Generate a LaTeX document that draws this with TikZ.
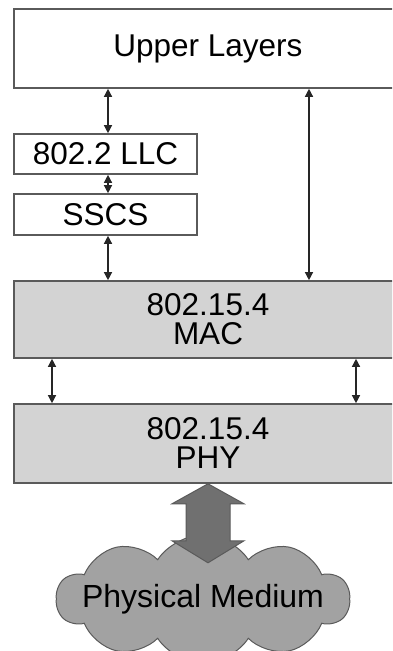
\documentclass[tikz,border=0pt]{standalone}
\usepackage{fontspec}
\setmainfont{Liberation Sans}
\usetikzlibrary{arrows.meta,shapes.symbols}
\definecolor{layerline}{HTML}{5A5A5A}
\definecolor{layergray}{HTML}{D3D3D3}
\definecolor{mediumgray}{HTML}{A2A2A2}
\definecolor{pipegray}{HTML}{707070}
\tikzset{
  layerbox/.style={draw=layerline, line width=1.6pt, fill=white,
                   inner sep=0pt, font=\fontsize{31.5}{29}\selectfont, align=center},
  graybox/.style={layerbox, fill=layergray},
  sap/.style={{Triangle[length=8pt,width=8pt]}-{Triangle[length=8pt,width=8pt]},
              line width=1.3pt, draw=black!85},
  bigpipe/.style={fill=pipegray, draw=layerline, line width=1pt},
}

\begin{document}
\begin{tikzpicture}[x=1pt, y=1pt]
    \useasboundingbox (0,0) rectangle (392,651);
    \clip (0,0) rectangle (392,651);
    % layers
    \node[layerbox, minimum width=388pt, minimum height=79pt] (upper) at (208, 602.5) {Upper Layers};
    \node[layerbox, minimum width=183pt, minimum height=40pt] (llc) at (105.5, 497) {802.2 LLC};
    \node[layerbox, minimum width=183pt, minimum height=41pt] (sscs) at (105.5, 436.5) {SSCS};
    \node[graybox, minimum width=388pt, minimum height=77pt] (mac) at (208, 331.5) {802.15.4\\MAC};
    \node[graybox, minimum width=388pt, minimum height=79pt] (phy) at (208, 207.5) {802.15.4\\PHY};
    \node[cloud, cloud puffs=10, cloud puff arc=115, aspect=2.7, fill=mediumgray,
          draw=layerline, line width=1pt, minimum width=293pt, minimum height=112pt,
          inner xsep=-34pt, inner ysep=-14pt, font=\fontsize{32}{34}\selectfont]
          (medium) at (203, 52) {Physical Medium};
    % service access points
    \draw[sap] (upper.south -| 108,0) -- (llc.north -| 108,0);
    \draw[sap] (llc.south -| 108,0) -- (sscs.north -| 108,0);
    \draw[sap] (sscs.south -| 108,0) -- (mac.north -| 108,0);
    \draw[sap] (upper.south -| 309,0) -- (mac.north -| 309,0);
    \draw[sap] (mac.south -| 52,0) -- (phy.north -| 52,0);
    \draw[sap] (mac.south -| 356,0) -- (phy.north -| 356,0);
    % phy <-> medium
    \draw[bigpipe] (phy.south) -- ++(36,-20) -- ++(-14,0) -- ++(0,-37) -- ++(14,0)
        -- ++(-36,-22) -- ++(-36,22) -- ++(14,0) -- ++(0,37) -- ++(-14,0) -- cycle;
\end{tikzpicture}
\end{document}
